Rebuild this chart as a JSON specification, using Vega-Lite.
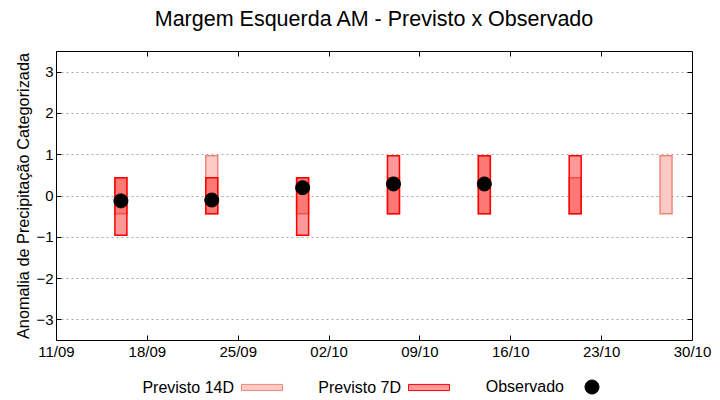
{
  "$schema": "https://vega.github.io/schema/vega-lite/v6.json",
  "width": 636,
  "height": 289,
  "autosize": {"type": "none"},
  "padding": {"left": 56, "top": 51, "right": 28, "bottom": 60},
  "background": "white",
  "config": {
    "font": "Liberation Sans",
    "view": {"stroke": null},
    "axis": {"domainColor": "black", "tickColor": "black", "labelColor": "black", "titleColor": "black", "labelFont": "Liberation Sans", "titleFont": "Liberation Sans"},
    "legend": {"labelFont": "Liberation Sans"}
  },
  "title": {"text": "Margem Esquerda AM - Previsto x Observado", "fontSize": 21.5, "fontWeight": "normal", "font": "Liberation Sans", "color": "black", "anchor": "middle", "offset": 20},
  "datasets": {
    "bars": [
      {"date": "2024-09-16T00:00:00", "serie": "Previsto 14D", "low": -0.44, "high": 0.43},
      {"date": "2024-09-23T00:00:00", "serie": "Previsto 14D", "low": -0.44, "high": 0.96},
      {"date": "2024-09-30T00:00:00", "serie": "Previsto 14D", "low": -0.44, "high": 0.43},
      {"date": "2024-10-07T00:00:00", "serie": "Previsto 14D", "low": -0.44, "high": 0.43},
      {"date": "2024-10-14T00:00:00", "serie": "Previsto 14D", "low": -0.44, "high": 0.96},
      {"date": "2024-10-21T00:00:00", "serie": "Previsto 14D", "low": -0.44, "high": 0.43},
      {"date": "2024-10-28T00:00:00", "serie": "Previsto 14D", "low": -0.44, "high": 0.96},
      {"date": "2024-09-16T00:00:00", "serie": "Previsto 7D", "low": -0.96, "high": 0.43},
      {"date": "2024-09-23T00:00:00", "serie": "Previsto 7D", "low": -0.44, "high": 0.43},
      {"date": "2024-09-30T00:00:00", "serie": "Previsto 7D", "low": -0.96, "high": 0.43},
      {"date": "2024-10-07T00:00:00", "serie": "Previsto 7D", "low": -0.44, "high": 0.96},
      {"date": "2024-10-14T00:00:00", "serie": "Previsto 7D", "low": -0.44, "high": 0.96},
      {"date": "2024-10-21T00:00:00", "serie": "Previsto 7D", "low": -0.44, "high": 0.96}
    ],
    "obs": [
      {"date": "2024-09-16T00:00:00", "serie": "Observado", "value": -0.13},
      {"date": "2024-09-23T00:00:00", "serie": "Observado", "value": -0.11},
      {"date": "2024-09-30T00:00:00", "serie": "Observado", "value": 0.19},
      {"date": "2024-10-07T00:00:00", "serie": "Observado", "value": 0.28},
      {"date": "2024-10-14T00:00:00", "serie": "Observado", "value": 0.28}
    ]
  },
  "resolve": {"axis": {"x": "independent", "y": "independent"}},
  "layer": [
    {
      "data": {"name": "bars"},
      "transform": [{"filter": "datum.serie === 'Previsto 14D'"}],
      "mark": {"type": "bar", "width": 12, "fill": "#fccac4", "stroke": "#f08878", "strokeWidth": 1.5},
      "encoding": {
        "x": {"field": "date", "type": "temporal",
          "scale": {"domain": [{"year": 2024, "month": 9, "date": 11}, {"year": 2024, "month": 10, "date": 30}], "nice": false, "padding": 0},
          "axis": {"orient": "bottom", "title": null, "format": "%d/%m", "labelFontSize": 15, "labelFlush": false, "labelOverlap": false,
            "values": [{"year": 2024, "month": 9, "date": 11}, {"year": 2024, "month": 9, "date": 18}, {"year": 2024, "month": 9, "date": 25}, {"year": 2024, "month": 10, "date": 2}, {"year": 2024, "month": 10, "date": 9}, {"year": 2024, "month": 10, "date": 16}, {"year": 2024, "month": 10, "date": 23}, {"year": 2024, "month": 10, "date": 30}],
            "tickSize": -5, "labelPadding": 9, "grid": false, "domainWidth": 1}},
        "y": {"field": "low", "type": "quantitative",
          "scale": {"domain": [-3.5, 3.5], "nice": false, "zero": false},
          "axis": {"orient": "left", "title": "Anomalia de Precipitação Categorizada", "titleFontSize": 16.3, "titleFontWeight": "normal", "titlePadding": 4,
            "values": [-3, -2, -1, 0, 1, 2, 3], "labelFontSize": 15, "tickSize": -5, "labelPadding": 8,
            "grid": true, "gridColor": "#a8a8a8", "gridDash": [2, 3], "gridWidth": 1, "domainWidth": 1}},
        "y2": {"field": "high"}
      }
    },
    {
      "data": {"name": "bars"},
      "transform": [{"filter": "datum.serie === 'Previsto 7D'"}],
      "mark": {"type": "bar", "width": 12, "fill": "red", "fillOpacity": 0.4, "stroke": "red", "strokeWidth": 1.5},
      "encoding": {
        "x": {"field": "date", "type": "temporal",
          "axis": {"orient": "top", "title": null, "labels": false, "tickSize": -5, "grid": false, "domainWidth": 1,
            "values": [{"year": 2024, "month": 9, "date": 11}, {"year": 2024, "month": 9, "date": 18}, {"year": 2024, "month": 9, "date": 25}, {"year": 2024, "month": 10, "date": 2}, {"year": 2024, "month": 10, "date": 9}, {"year": 2024, "month": 10, "date": 16}, {"year": 2024, "month": 10, "date": 23}, {"year": 2024, "month": 10, "date": 30}]}},
        "y": {"field": "low", "type": "quantitative",
          "axis": {"orient": "right", "title": null, "labels": false, "values": [-3, -2, -1, 0, 1, 2, 3], "tickSize": -5, "grid": false, "domainWidth": 1}},
        "y2": {"field": "high"}
      }
    },
    {
      "data": {"name": "obs"},
      "mark": {"type": "point", "filled": true, "size": 1681, "strokeWidth": 1, "opacity": 1},
      "encoding": {
        "x": {"field": "date", "type": "temporal", "axis": null},
        "y": {"field": "value", "type": "quantitative", "axis": null},
        "fill": {"field": "serie", "type": "nominal",
          "scale": {"domain": ["Previsto 14D", "Previsto 7D", "Observado"], "range": ["#fccac4", "#ff9999", "black"]},
          "legend": {"title": null, "orient": "none", "legendX": 185, "legendY": 315, "direction": "horizontal",
            "labelAlign": "right", "labelOffset": -49, "labelFontSize": 16, "labelColor": "black", "columnPadding": 33,
            "symbolSize": 1681, "symbolStrokeWidth": 1}},
        "stroke": {"field": "serie", "type": "nominal",
          "scale": {"domain": ["Previsto 14D", "Previsto 7D", "Observado"], "range": ["#f08878", "red", "black"]}},
        "shape": {"field": "serie", "type": "nominal",
          "scale": {"domain": ["Previsto 14D", "Previsto 7D", "Observado"], "range": ["M-1,-0.15H1V0.15H-1Z", "M-1,-0.15H1V0.15H-1Z", "M-0.34,0A0.34,0.34,0,1,0,0.34,0A0.34,0.34,0,1,0,-0.34,0Z"]}}
      }
    }
  ]
}
